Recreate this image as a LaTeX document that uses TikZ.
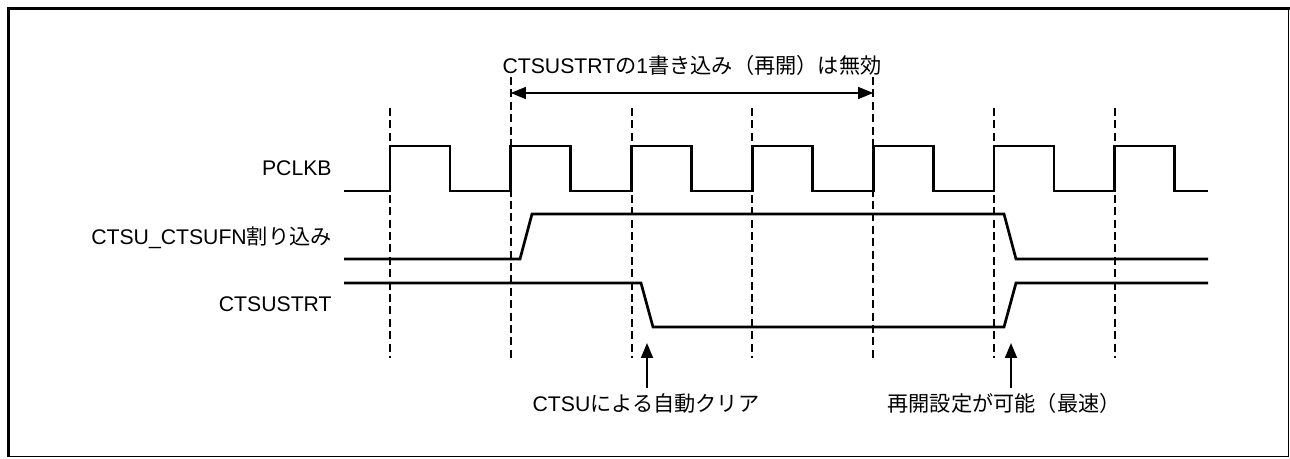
\documentclass[tikz,border=0pt]{standalone}
\usepackage{fontspec}
\setmainfont{Liberation Sans}
\newfontfamily\jpfont{Noto Sans CJK JP}
\newcommand{\jp}[1]{{\jpfont #1}}
\usetikzlibrary{positioning,arrows.meta}

\begin{document}
\begin{tikzpicture}[x=0.5pt,y=-0.5pt,
      wave/.style={line width=1.35pt,line join=miter},
      guide/.style={line width=1pt,dash pattern=on 4pt off 2.2pt},
      lbl/.style={font=\fontsize{10.6}{12}\selectfont,inner sep=0pt},
      sig/.style={lbl,anchor=east},
      uparrow/.style={line width=0.9pt,-{Triangle[length=7.5pt,width=6pt]}}]
    \useasboundingbox (0,0) rectangle (1290,459);
    \draw[line width=1.5pt] (8,456.5) -- (8,8.5) -- (1290,8.5);
    \draw[line width=0.7pt] (8,456.5) -- (1288.5,456.5) -- (1288.5,8.5);

    \node[sig] (pclkb) at (332,168) {PCLKB};
    \node[sig] (ctsufn) at (332,238) {CTSU\_CTSUFN\jp{割り込み}};
    \node[sig] (ctsustrt) at (332,304) {CTSUSTRT};

    % clock and guides
    \draw[wave] (344,191) \foreach \k in {0,...,6} {
        -- ({390+120.8*\k},191) -- ({390+120.8*\k},146)
        -- ({450+120.8*\k},146) -- ({450+120.8*\k},191)} -- (1208,191);
    \foreach \k in {0,2,3,5,6}
      \draw[guide] ({390+120.8*\k},108) -- ({390+120.8*\k},358);
    \coordinate (wl) at (510.8,93);
    \coordinate (wr) at (873.2,93);
    \draw[guide] (510.8,77) -- (510.8,358);
    \draw[guide] (873.2,77) -- (873.2,358);
    \draw[line width=0.6pt,{Triangle[length=7.5pt,width=6pt]}-{Triangle[length=7.5pt,width=6pt]}] (wl) -- (wr);
    \node[lbl] (title) at (692,65) {CTSUSTRT\jp{の}1\jp{書き込み（再開）は無効}};

    \draw[wave] (344,259) -- (520,259) -- (532,214) -- (1004,214) -- (1016,259) -- (1208,259);
    \draw[wave] (344,283) -- (641,283) -- (653,327) -- (1004,327) -- (1016,283) -- (1208,283);

    \node[lbl] (clear) at (646,403) {CTSU\jp{による自動クリア}};
    \node[lbl] (restart) at (1004,403) {\jp{再開設定が可能（最速）}};
    \coordinate (cleartip) at (647,343);
    \coordinate (cleartail) at (647,388);
    \coordinate (restarttip) at (1011,343);
    \coordinate (restarttail) at (1011,388);
    \draw[uparrow] (cleartail) -- (cleartip);
    \draw[uparrow] (restarttail) -- (restarttip);
  \end{tikzpicture}
\end{document}
